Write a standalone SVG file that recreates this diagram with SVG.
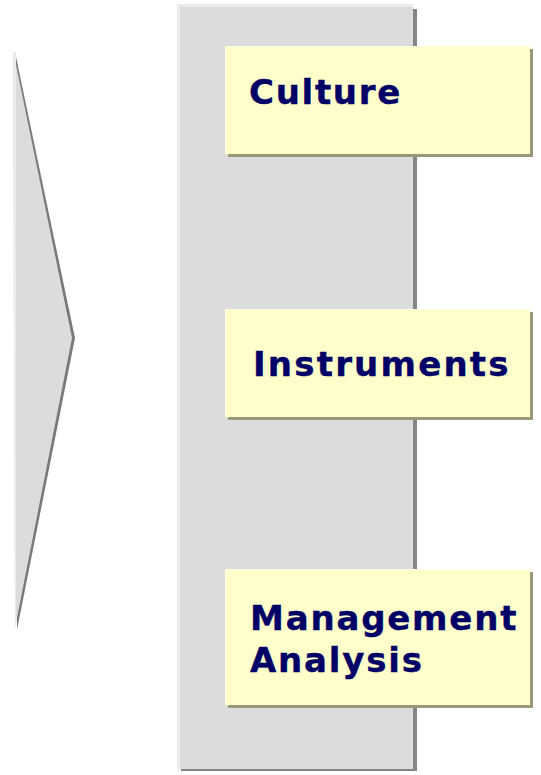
<svg xmlns="http://www.w3.org/2000/svg" width="541" height="775" viewBox="0 0 541 775">
<style>
.lbl{font-family:"DejaVu Sans","Verdana",sans-serif;font-weight:bold;font-size:34px;fill:#000066;letter-spacing:1.7px;stroke:#000066;stroke-width:0.4px}
.box{fill:#ffffcc}
.boxhl{fill:#ffffe0}
.boxsh{fill:#9a9878}
</style>
<rect width="541" height="775" fill="#ffffff"/>
<g id="chevron">
<polygon points="15,52 75,338 17,630" fill="#7a7a7a"/>
<polygon points="13,50 72,338 15,628" fill="#dcdcdc"/>
<polygon points="13,50 16,55 16,620 15,628" fill="#ebebeb"/>
</g>
<g id="panel">
<rect x="181" y="9" width="236" height="762" fill="#858585"/>
<rect x="177" y="4" width="236" height="765" fill="#ebebeb"/>
<rect x="180" y="7" width="233" height="762" fill="#dcdcdc"/>
</g>
<g id="culture">
<rect class="boxsh" x="228" y="49" width="305" height="108"/>
<rect class="boxhl" x="225" y="46" width="305" height="108"/>
<rect class="box" x="226" y="47" width="304" height="107"/>
<text class="lbl" x="249" y="104">Culture</text>
</g>
<g id="instruments">
<rect class="boxsh" x="228" y="312" width="305" height="108"/>
<rect class="boxhl" x="225" y="309" width="305" height="108"/>
<rect class="box" x="226" y="310" width="304" height="107"/>
<text class="lbl" x="253" y="376" style="letter-spacing:2.2px">Instruments</text>
</g>
<g id="management-analysis">
<rect class="boxsh" x="228" y="572" width="305" height="136"/>
<rect class="boxhl" x="225" y="569" width="305" height="136"/>
<rect class="box" x="226" y="570" width="304" height="135"/>
<text class="lbl" x="250" y="630" style="letter-spacing:1.8px">Management</text>
<text class="lbl" x="250" y="672" style="letter-spacing:1.8px">Analysis</text>
</g>
<g id="connectors"></g>
</svg>
